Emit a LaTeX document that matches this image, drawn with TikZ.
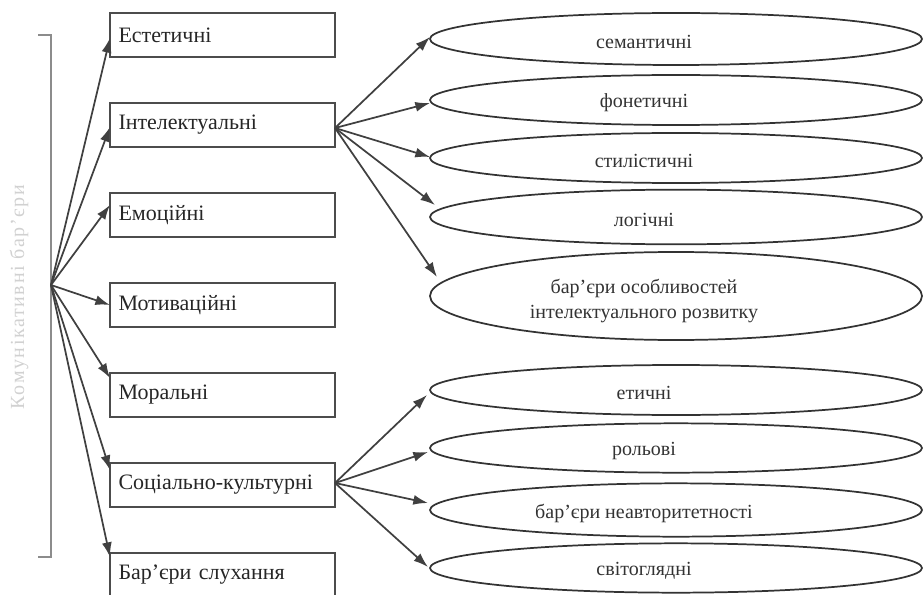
\documentclass[tikz,border=0pt]{standalone}
\usepackage{fontspec}
\setmainfont{Liberation Serif}
\usetikzlibrary{shapes.geometric,arrows.meta,calc}
\tikzset{
  boxnode/.style={draw=black!70, line width=0.9pt, rectangle, minimum width=168.75pt, minimum height=33pt,
    text width=156pt, align=left, inner xsep=6pt, inner ysep=0pt, outer sep=0pt,
    font=\fontsize{16.5}{18}\selectfont, text=black!85},
  ovalnode/.style={draw=black!80, line width=1.3pt, ellipse, minimum width=369pt, inner sep=0pt, outer sep=0pt},
  ovaltext/.style={font=\fontsize{15}{18.75}\selectfont, text=black!80, align=center, inner sep=0pt},
  arr/.style={draw=black!75, line width=1.3pt, -{Latex[length=11pt,width=7.5pt]}},
  bracketline/.style={draw=black!45, line width=0.8pt}
}
\begin{document}
\begin{tikzpicture}[x=0.75pt,y=-0.75pt]
\useasboundingbox (0,0) rectangle (923,595);

% bracket and vertical label
\coordinate (bt) at (38,35);
\coordinate (bb) at (38,557);
\coordinate (O) at (51,285);
\draw[bracketline] (bt) -- ++(13,0) -- ++(0,522) -- (bb);
\node[rotate=90, text=black!18, font=\fontsize{15}{17}\selectfont\addfontfeatures{LetterSpace=8}] (lab) at (19,297) {Комунікативні бар'єри};

% boxes
\node[boxnode] (b1) at (222.5,35)  {Естетичні};
\node[boxnode] (b2) at (222.5,125) {Інтелектуальні};
\node[boxnode] (b3) at (222.5,215) {Емоційні};
\node[boxnode] (b4) at (222.5,305) {Мотиваційні};
\node[boxnode] (b5) at (222.5,395) {Моральні};
\node[boxnode] (b6) at (222.5,485) {Соціально-культурні};
\node[boxnode] (b7) at (222.5,575) {Бар'єри слухання};

% ellipses
\node[ovalnode, minimum height=39pt]   (e1) at (676,39)  {};
\node[ovalnode, minimum height=37.5pt] (e2) at (676,100) {};
\node[ovalnode, minimum height=37.5pt] (e3) at (676,158) {};
\node[ovalnode, minimum height=41pt]   (e4) at (676,217) {};
\node[ovalnode, minimum height=66pt]   (e5) at (676,296) {};
\node[ovalnode, minimum height=37.5pt] (e6) at (676,390) {};
\node[ovalnode, minimum height=37pt]   (e7) at (676,448) {};
\node[ovalnode, minimum height=40pt]   (e8) at (676,510) {};
\node[ovalnode, minimum height=37pt]   (e9) at (676,568) {};

\node[ovaltext] (t1) at (644,42)  {семантичні};
\node[ovaltext] (t2) at (644,103) {фонетичні};
\node[ovaltext] (t3) at (644,161) {стилістичні};
\node[ovaltext] (t4) at (644,220) {логічні};
\node[ovaltext] (t5) at (644,301) {бар'єри особливостей\\інтелектуального розвитку};
\node[ovaltext] (t6) at (644,393) {етичні};
\node[ovaltext] (t7) at (644,451) {рольові};
\node[ovaltext] (t8) at (644,513) {бар'єри неавторитетності};
\node[ovaltext] (t9) at (644,571) {світоглядні};

% arrows from the common point
\draw[arr] (O) -- ($(b1.west)+(0,3)$);
\draw[arr] (O) -- ($(b2.west)+(0,2)$);
\draw[arr] (O) -- ($(b3.west)+(0,-10)$);
\draw[arr] (O) -- (b4.west);
\draw[arr] (O) -- ($(b5.west)+(0,-17)$);
\draw[arr] (O) -- ($(b6.west)+(0,-15)$);
\draw[arr] (O) -- ($(b7.west)+(0,-18)$);

% arrows from Інтелектуальні
\draw[arr] ($(b2.east)+(0,3)$) -- ($(e1.west)+(0,-2)$);
\draw[arr] ($(b2.east)+(0,3)$) -- ($(e2.west)+(0,3)$);
\draw[arr] ($(b2.east)+(0,3)$) -- ($(e3.west)+(0,-1)$);
\draw[arr] ($(b2.east)+(0,3)$) -- ($(e4.west)+(5,-12)$);
\draw[arr] ($(b2.east)+(0,3)$) -- ($(e5.west)+(7,-19)$);

% arrows from Соціально-культурні
\draw[arr] ($(b6.east)+(0,-2)$) -- ($(e6.west)+(-3,5)$);
\draw[arr] ($(b6.east)+(0,-2)$) -- ($(e7.west)+(-2,4)$);
\draw[arr] ($(b6.east)+(0,-2)$) -- ($(e8.west)+(-2,-7)$);
\draw[arr] ($(b6.east)+(0,-2)$) -- ($(e9.west)+(-2,-1)$);
\end{tikzpicture}
\end{document}
